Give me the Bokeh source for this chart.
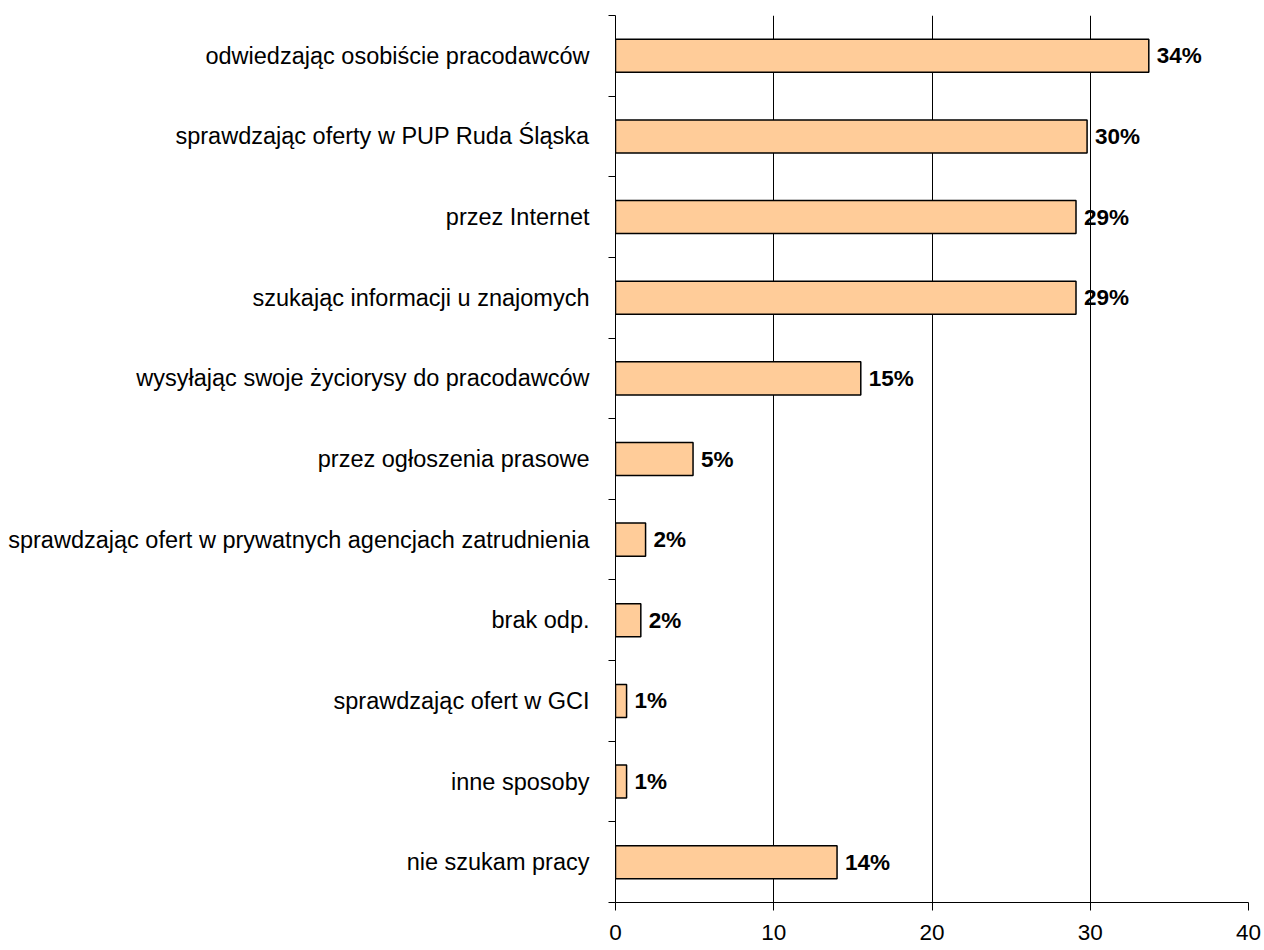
from bokeh.plotting import figure
from bokeh.models import ColumnDataSource, FixedTicker, Range1d
from bokeh.core.properties import value
from bokeh.embed import file_html
from bokeh.resources import INLINE

categories = [
    "odwiedzając osobiście pracodawców",
    "sprawdzając oferty w PUP Ruda Śląska",
    "przez Internet",
    "szukając informacji u znajomych",
    "wysyłając swoje życiorysy do pracodawców",
    "przez ogłoszenia prasowe",
    "sprawdzając ofert w prywatnych agencjach zatrudnienia",
    "brak odp.",
    "sprawdzając ofert w GCI",
    "inne sposoby",
    "nie szukam pracy",
]
values = [33.7, 29.8, 29.1, 29.1, 15.5, 4.9, 1.9, 1.6, 0.7, 0.7, 14.0]
value_labels = ["34%", "30%", "29%", "29%", "15%", "5%", "2%", "2%", "1%", "1%", "14%"]
x_ticks = [0, 10, 20, 30, 40]

n = len(categories)
ypos = [n - 1 - i for i in range(n)]
boundaries = [k + 0.5 for k in range(-1, n)]

src = ColumnDataSource(dict(y=ypos, v=values, lab=value_labels, cat=categories))

p = figure(width=1262, height=950, output_backend="svg", toolbar_location=None,
           x_range=Range1d(0, 40), y_range=Range1d(-0.5, n - 0.5),
           min_border_left=615, min_border_right=14, min_border_top=15,
           min_border_bottom=48)
p.outline_line_color = None
p.background_fill_color = "white"
p.border_fill_color = "white"

p.hbar(y="y", right="v", left=0, height=0.41, source=src,
       fill_color="#FFCC99", line_color="black", line_width=1.5)
p.text(x="v", y="y", text="lab", source=src, x_offset=8,
       text_baseline="middle", text_align="left",
       text_font=value("Liberation Sans"), text_font_style="bold",
       text_font_size="22.5px", text_color="black")

# x axis
p.xaxis.ticker = FixedTicker(ticks=x_ticks)
p.xaxis.major_tick_out = 8
p.xaxis.major_tick_in = 0
p.xaxis.minor_tick_line_color = None
p.xaxis.major_label_standoff = 14
p.xaxis.major_label_text_font = "Liberation Sans"
p.xaxis.major_label_text_font_size = "22.5px"
p.xaxis.major_label_text_color = "black"
p.xaxis.axis_line_color = "black"
p.xaxis.major_tick_line_color = "black"

p.xgrid.ticker = FixedTicker(ticks=x_ticks)
p.xgrid.grid_line_color = "black"
p.xgrid.grid_line_width = 1
p.ygrid.grid_line_color = None

# y axis: labels at centers, ticks at boundaries
p.yaxis.ticker = FixedTicker(ticks=ypos, minor_ticks=boundaries)
p.yaxis.major_label_overrides = {yy: c for yy, c in zip(ypos, categories)}
p.yaxis.major_tick_out = 0
p.yaxis.major_tick_in = 0
p.yaxis.minor_tick_out = 7
p.yaxis.minor_tick_in = 0
p.yaxis.minor_tick_line_color = "black"
p.yaxis.major_label_standoff = 19
p.yaxis.major_label_text_font = "Liberation Sans"
p.yaxis.major_label_text_font_size = "23.5px"
p.yaxis.major_label_text_color = "black"
p.yaxis.axis_line_color = "black"

open("out.html", "w").write(file_html(p, INLINE))
